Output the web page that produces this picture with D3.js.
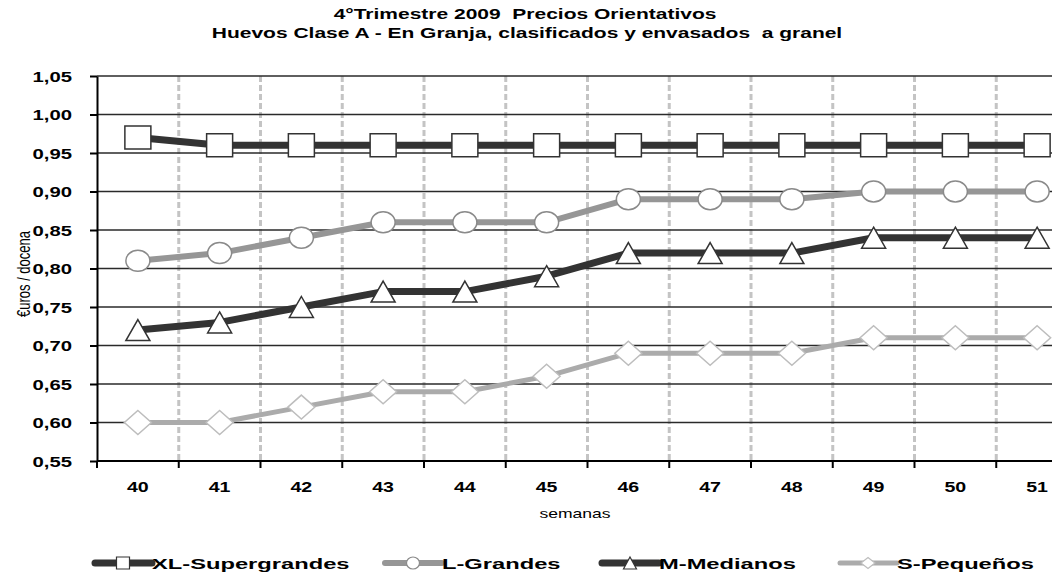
<!DOCTYPE html>
<html lang="es">
<head>
  <meta charset="UTF-8">
  <script src="https://d3js.org/d3.v7.min.js"></script>
  <title>Precios Orientativos</title>
  <style>
    body { margin: 0; background: #fff; }
    text { font-family: "Liberation Sans", Arial, sans-serif; fill: #000; }
  </style>
</head>
<body>
  <script>
    // datos
    const semanas = ["40", "41", "42", "43", "44", "45", "46", "47", "48", "49", "50", "51"]
    const xlSupergrandes = [0.97, 0.96, 0.96, 0.96, 0.96, 0.96, 0.96, 0.96, 0.96, 0.96, 0.96, 0.96]
    const lGrandes = [0.81, 0.82, 0.84, 0.86, 0.86, 0.86, 0.89, 0.89, 0.89, 0.90, 0.90, 0.90]
    const mMedianos = [0.72, 0.73, 0.75, 0.77, 0.77, 0.79, 0.82, 0.82, 0.82, 0.84, 0.84, 0.84]
    const sPequenos = [0.60, 0.60, 0.62, 0.64, 0.64, 0.66, 0.69, 0.69, 0.69, 0.71, 0.71, 0.71]
    const yTicks = [0.55, 0.60, 0.65, 0.70, 0.75, 0.80, 0.85, 0.90, 0.95, 1.00, 1.05]
    const seriesNames = ["XL-Supergrandes", "L-Grandes", "M-Medianos", "S-Pequeños"]

    const series = [
      { name: seriesNames[0], values: xlSupergrandes, color: "#333333", width: 7, marker: "square", edge: "#333333" },
      { name: seriesNames[1], values: lGrandes, color: "#969696", width: 6, marker: "ellipse", edge: "#8a8a8a" },
      { name: seriesNames[2], values: mMedianos, color: "#333333", width: 7, marker: "triangle", edge: "#333333" },
      { name: seriesNames[3], values: sPequenos, color: "#ababab", width: 5, marker: "diamond", edge: "#bdbdbd" }
    ]

    const dimension = {
      width: 1052,
      height: 581,
      margin: { top: 76, right: 0, bottom: 120, left: 97 }
    }

    const svg = d3.select("body")
        .append("svg")
        .attr("width", dimension.width)
        .attr("height", dimension.height)

    const xScale = d3.scaleBand()
        .domain(semanas)
        .range([dimension.margin.left, dimension.margin.left + 81.75 * semanas.length])

    const yScale = d3.scaleLinear()
        .domain([0.55, 1.05])
        .range([461, 76])

    // el grafico original esta estirado en horizontal, el texto tambien
    function stretchedText(parent, x, y, str, sx) {
      return parent.append("text")
          .attr("transform", `translate(${x},${y}) scale(${sx},1)`)
          .style("white-space", "pre")
          .text(str)
    }

    function markerPath(type, w, h) {
      if (type === "square") return `M${-w/2},${-h/2}h${w}v${h}h${-w}Z`
      if (type === "ellipse") return `M${-w/2},0a${w/2},${h/2} 0 1,0 ${w},0a${w/2},${h/2} 0 1,0 ${-w},0Z`
      if (type === "triangle") return `M0,${-h/2}L${w/2},${h/2}L${-w/2},${h/2}Z`
      return `M0,${-h/2}L${w/2},0L0,${h/2}L${-w/2},0Z`
    }
    const markerSize = {
      square: [26, 23], ellipse: [24, 21], triangle: [24, 21], diamond: [27, 24]
    }

    // titulo
    const title = svg.append("g").style("font-weight", "bold").style("font-size", "14px")
    stretchedText(title, 525, 19, "4°Trimestre 2009  Precios Orientativos", 1.5).attr("text-anchor", "middle")
    stretchedText(title, 527, 38, "Huevos Clase A - En Granja, clasificados y envasados  a granel", 1.5).attr("text-anchor", "middle")

    // rejilla vertical discontinua
    const bounds = semanas.map(d => xScale(d) + xScale.bandwidth())
    svg.append("g")
      .selectAll("line")
      .data(bounds)
      .join("line")
        .attr("x1", d => d).attr("x2", d => d)
        .attr("y1", yScale(1.05)).attr("y2", yScale(0.55))
        .attr("stroke", "#c4c4c4")
        .attr("stroke-width", 3)
        .attr("stroke-dasharray", "6,3")

    // rejilla horizontal
    svg.append("g")
      .selectAll("line")
      .data(yTicks.slice(1))
      .join("line")
        .attr("x1", dimension.margin.left).attr("x2", dimension.width)
        .attr("y1", d => yScale(d)).attr("y2", d => yScale(d))
        .attr("stroke", "#2a2a2a")
        .attr("stroke-width", 1.6)

    // eje y
    const yAxis = svg.append("g")
        .attr("transform", `translate(${dimension.margin.left},0)`)
        .call(d3.axisLeft(yScale).tickValues(yTicks).tickSize(7).tickSizeOuter(0))
    yAxis.selectAll("line, path").attr("stroke", "#000").attr("stroke-width", 2)
    yAxis.selectAll("text").remove()
    yAxis.selectAll(".tick").each(function(d) {
      stretchedText(d3.select(this), -25, 5, d3.format(".2f")(d).replace(".", ","), 1.45)
        .attr("text-anchor", "end")
        .style("font-size", "14px")
        .style("font-weight", "bold")
    })

    // eje x
    const xAxisY = yScale(0.55)
    svg.append("line")
        .attr("x1", dimension.margin.left).attr("x2", dimension.width)
        .attr("y1", xAxisY).attr("y2", xAxisY)
        .attr("stroke", "#000").attr("stroke-width", 2)
    svg.append("g")
      .selectAll("line")
      .data([dimension.margin.left, ...bounds])
      .join("line")
        .attr("x1", d => d).attr("x2", d => d)
        .attr("y1", xAxisY).attr("y2", xAxisY + 7)
        .attr("stroke", "#000").attr("stroke-width", 2)
    const xLabels = svg.append("g").style("font-size", "14px").style("font-weight", "bold")
    semanas.forEach(d => {
      stretchedText(xLabels, xScale(d) + xScale.bandwidth() / 2, 492, d, 1.4).attr("text-anchor", "middle")
    })

    // titulos de ejes
    stretchedText(svg, 575, 518, "semanas", 1.35).attr("text-anchor", "middle").style("font-size", "13px")
    svg.append("text")
        .attr("transform", "translate(30,274) rotate(-90) scale(1,1.35)")
        .attr("text-anchor", "middle")
        .style("font-size", "13px")
        .text("€uros / docena")

    // series
    const lineGenerator = d3.line()
        .x((d, i) => xScale(semanas[i]) + xScale.bandwidth() / 2)
        .y(d => yScale(d))

    series.forEach(s => {
      const g = svg.append("g")
      g.append("path")
          .attr("d", lineGenerator(s.values))
          .attr("fill", "none")
          .attr("stroke", s.color)
          .attr("stroke-width", s.width)
          .attr("stroke-linejoin", "round")
      const [w, h] = markerSize[s.marker]
      g.selectAll("path.mk")
        .data(s.values)
        .join("path")
          .attr("class", "mk")
          .attr("transform", (d, i) => `translate(${xScale(semanas[i]) + xScale.bandwidth() / 2},${yScale(d)})`)
          .attr("d", markerPath(s.marker, w, h))
          .attr("fill", "#fff")
          .attr("stroke", s.edge)
          .attr("stroke-width", 1.5)
    })

    // leyenda
    const legendX = [95, 385, 602, 840]
    const legend = svg.append("g").attr("transform", "translate(0,563)")
    series.forEach((s, i) => {
      const item = legend.append("g").attr("transform", `translate(${legendX[i]},0)`)
      item.append("line")
          .attr("x1", 0).attr("x2", 57)
          .attr("stroke", s.color).attr("stroke-width", s.width)
          .attr("stroke-linecap", "round")
      item.append("path")
          .attr("transform", "translate(28,0)")
          .attr("d", markerPath(s.marker, s.marker === "diamond" ? 14 : 13, s.marker === "diamond" ? 11 : 12))
          .attr("fill", "#fff")
          .attr("stroke", s.edge)
          .attr("stroke-width", 1.2)
      stretchedText(item, 57, 6, s.name, 1.58)
          .style("font-size", "15px")
          .style("font-weight", "bold")
    })
  </script>
</body>
</html>
